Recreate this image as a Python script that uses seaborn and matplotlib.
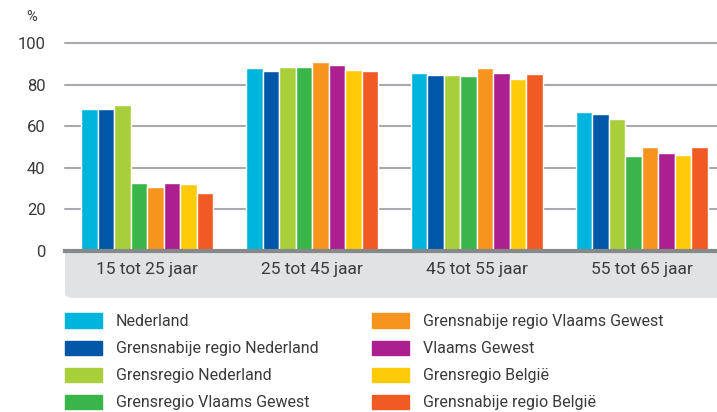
import pandas as pd
import seaborn as sns
import matplotlib.pyplot as plt
from matplotlib.patches import FancyBboxPatch

# chart data
leeftijden = ["15 tot 25 jaar", "25 tot 45 jaar", "45 tot 55 jaar", "55 tot 65 jaar"]
regio = [
    "Nederland",
    "Grensnabije regio Nederland",
    "Grensregio Nederland",
    "Grensregio Vlaams Gewest",
    "Grensnabije regio Vlaams Gewest",
    "Vlaams Gewest",
    "Grensregio België",
    "Grensnabije regio België",
]
nederland = [68.3, 88.1, 85.7, 66.9]
grensnabije_nl = [68.3, 86.6, 84.7, 65.9]
grensregio_nl = [70.2, 88.6, 84.7, 63.5]
grensregio_vg = [32.6, 88.6, 84.2, 45.7]
grensnabije_vg = [30.7, 91.0, 88.1, 50.0]
vlaams_gewest = [32.6, 89.5, 85.7, 47.1]
grensregio_be = [32.1, 87.1, 82.7, 46.1]
grensnabije_be = [27.8, 86.6, 85.2, 50.0]

kleuren = ["#00b5dd", "#0057a8", "#a8ce3a", "#3ab54a",
           "#f7941e", "#ab1f8e", "#ffcb08", "#f15a22"]

series = [nederland, grensnabije_nl, grensregio_nl, grensregio_vg,
          grensnabije_vg, vlaams_gewest, grensregio_be, grensnabije_be]
rows = []
for naam, vals in zip(regio, series):
    for lft, v in zip(leeftijden, vals):
        rows.append({"leeftijd": lft, "regio": naam, "pct": v})
df = pd.DataFrame(rows)

sns.set_style("white")
plt.rcParams['font.family'] = ['Roboto', 'DejaVu Sans']
txt = "#3a3a3c"

fig = plt.figure(figsize=(7.17, 4.12), dpi=100)
W, H = 717, 412
ax = fig.add_axes([65 / W, 1 - 251 / H, (724 - 65) / W, (251 - 43) / H])
ax.set_zorder(1)

sns.barplot(data=df, x="leeftijd", y="pct", hue="regio", hue_order=regio,
            palette=kleuren, width=0.8, edgecolor="white", linewidth=1,
            saturation=1, legend=False, ax=ax)

ax.set_ylim(0, 100)
ax.set_yticks([0, 20, 40, 60, 80, 100])
for y in [20, 40, 60, 80, 100]:
    ax.axhline(y, color="#a7a9ac", lw=1.5, zorder=0, clip_on=False)
ax.set_xlabel("")
ax.set_ylabel("")
for s in ["top", "left", "right"]:
    ax.spines[s].set_visible(False)
ax.spines["bottom"].set_color("#87888a")
ax.spines["bottom"].set_linewidth(3)
ax.tick_params(axis="y", length=0, pad=14, labelsize=12, labelcolor=txt)
ax.tick_params(axis="x", length=0, pad=8, labelsize=12.5, labelcolor=txt)

# grey band under the categories
band = FancyBboxPatch((65 / W, 1 - 298 / H), 700 / W, 70 / H,
                      boxstyle="round,pad=0,rounding_size=0.012",
                      transform=fig.transFigure, facecolor="#e1e2e4",
                      edgecolor="none", zorder=0)
fig.patches.append(band)

fig.text(26 / W, 1 - 17 / H, "%", fontsize=10.5, color=txt, va="center")

# legend
handles = [plt.Rectangle((0, 0), 1, 1, color=c) for c in kleuren]
fig.legend(handles, regio, ncol=2, loc="upper left",
           bbox_to_anchor=(58.5 / W, 1 - 307 / H), frameon=False,
           handlelength=2.3, handleheight=1.0, handletextpad=0.87,
           columnspacing=3.4, labelspacing=0.72, fontsize=11.5,
           labelcolor=txt, borderaxespad=0)

fig.savefig("out.png", dpi=100)
